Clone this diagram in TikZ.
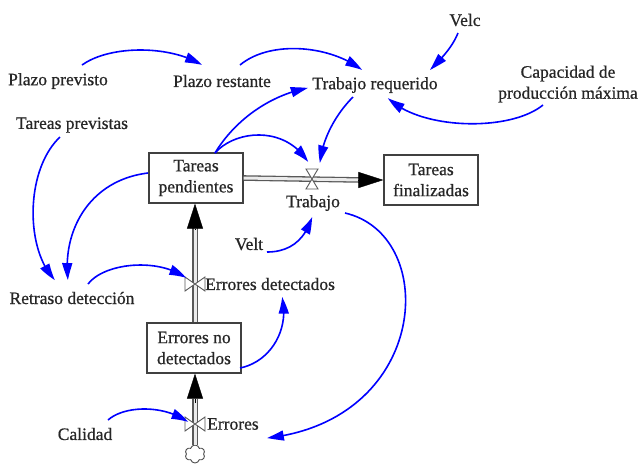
\documentclass[tikz,border=0pt]{standalone}
\usepackage{fontspec}
\setmainfont{Liberation Serif}
\newfontfamily\diagfont{Liberation Serif}[BoldFont={Liberation Serif},BoldFeatures={FakeBold=0.7}]
\usetikzlibrary{arrows.meta,bending,shapes.symbols}
\begin{document}
\begin{tikzpicture}[x=1pt,y=-1pt,
  every node/.style={font=\diagfont\bfseries\fontsize{17.5}{21}\selectfont},
  lbl/.style={inner sep=0pt, align=center, text=black!85},
  stock/.style={draw=black!75, line width=1.2pt, fill=white, minimum width=94pt,
                minimum height=50pt, inner sep=0pt, align=center, text=black!85},
  valvebox/.style={inner sep=0pt, minimum width=14pt, minimum height=20pt},
  link/.style={draw=blue, line width=1.6pt, -{Triangle[length=17pt,width=10pt,bend]}},
  pipe/.style={draw=black!65, line width=1.3pt, double=black!8, double distance=3pt},
  flowtip/.style={black, line width=0.4pt, -{Triangle[length=25pt,width=16pt]}},
  valve/.style={draw=black!65, line width=0.9pt, fill=white},
  hvalve/.pic={\path[valve] (-6,-10) -- (6,-10) -- (-6,10) -- (6,10) -- cycle;},
  vvalve/.pic={\path[valve] (-10,-7) -- (-10,7) -- (10,-7) -- (10,7) -- cycle;},
]
\useasboundingbox (0,0) rectangle (640,467);

% auxiliary variables
\node[lbl] (pp)    at (58,81)   {Plazo previsto};
\node[lbl] (pr)    at (222,81)  {Plazo restante};
\node[lbl] (treq)  at (375,85)  {Trabajo requerido};
\node[lbl] (velc)  at (465,20)  {Velc};
\node[lbl] (cap)   at (568,84)  {Capacidad de\\producción máxima};
\node[lbl] (tprev) at (72,125)  {Tareas previstas};
\node[lbl] (velt)  at (249,244) {Velt};
\node[lbl] (ret)   at (72,298)  {Retraso detección};
\node[lbl] (cal)   at (85,434)  {Calidad};

% stocks
\node[stock] (tpend) at (196,178) {Tareas\\pendientes};
\node[stock] (tfin)  at (431,180) {Tareas\\finalizadas};
\node[stock] (end)   at (194,348) {Errores no\\detectados};

% source cloud
\node[cloud, cloud puffs=6, draw=black!70, line width=0.9pt, fill=white,
      minimum width=20pt, minimum height=18pt, inner sep=0pt] (src) at (195,454) {};

% valve anchors and their labels
\node[valvebox] (vtr)  at (312,179) {};
\node[valvebox] (ved)  at (195,284) {};
\node[valvebox] (verr) at (195,424) {};
\node[lbl] (trab) at (313,203) {Trabajo};
\node[lbl, anchor=west] (edl)  at (205,284) {Errores detectados};
\node[lbl, anchor=west] (errl) at (207,424) {Errores};

% flows
\draw[pipe] (tpend.east) -- ([shift={(-22,0)}]tfin.west);
\draw[flowtip] ([shift={(-25,0)}]tfin.west) -- (tfin.west);
\draw[pipe] ([shift={(1,0)}]end.north) -- ([shift={(-1,22)}]tpend.south);
\draw[flowtip] ([shift={(-1,26)}]tpend.south) -- ([shift={(-1,0)}]tpend.south);
\draw[pipe] (src.north) -- ([shift={(1,25)}]end.south);
\draw[flowtip] ([shift={(1,29)}]end.south) -- ([shift={(1,0)}]end.south);

\pic at (vtr)  {hvalve};
\pic at (ved)  {vvalve};
\pic at (verr) {vvalve};

% information links
\draw[link] ([shift={(24,-16)}]pp.center) .. controls (110,45) and (170,45) .. ([shift={(-20,-16)}]pr.center);
\draw[link] ([shift={(18,-16)}]pr.center) .. controls (270,40) and (330,45) .. ([shift={(-13,-15)}]treq.center);
\draw[link] ([shift={(-7,13)}]velc.center) .. controls (452,48) and (440,60) .. ([shift={(55,-15)}]treq.center);
\draw[link] ([shift={(-25,21)}]cap.center) .. controls (510,132) and (420,130) .. ([shift={(13,13)}]treq.center);
\draw[link] ([shift={(19,-25)}]tpend.center) .. controls (235,120) and (270,95) .. ([shift={(-67,3)}]treq.center);
\draw[link] ([shift={(19,-25)}]tpend.center) .. controls (235,130) and (285,125) .. ([shift={(-4,-17)}]vtr.center);
\draw[link] ([shift={(-22,12)}]treq.center) .. controls (335,115) and (322,140) .. ([shift={(8,-16)}]vtr.center);
\draw[link] ([shift={(-12,12)}]tprev.center) .. controls (25,170) and (25,250) .. ([shift={(-17,-18)}]ret.center);
\draw[link] ([shift={(-48,-5)}]tpend.center) .. controls (90,180) and (62,230) .. ([shift={(-4,-18)}]ret.center);
\draw[link] ([shift={(16,-14)}]ret.center) .. controls (105,262) and (160,258) .. ([shift={(-9,-6)}]ved.center);
\draw[link] ([shift={(18,8)}]velt.center) .. controls (290,252) and (305,240) .. ([shift={(-1,14)}]trab.center);
\draw[link] ([shift={(46,20)}]end.center) .. controls (270,362) and (290,330) .. ([shift={(77,13)}]edl.west);
\draw[link] ([shift={(32,10)}]trab.center) .. controls (440,235) and (430,420) .. ([shift={(60,14)}]errl.west);
\draw[link] ([shift={(23,-14)}]cal.center) .. controls (125,405) and (165,405) .. ([shift={(-7,-2)}]verr.center);
\end{tikzpicture}
\end{document}
